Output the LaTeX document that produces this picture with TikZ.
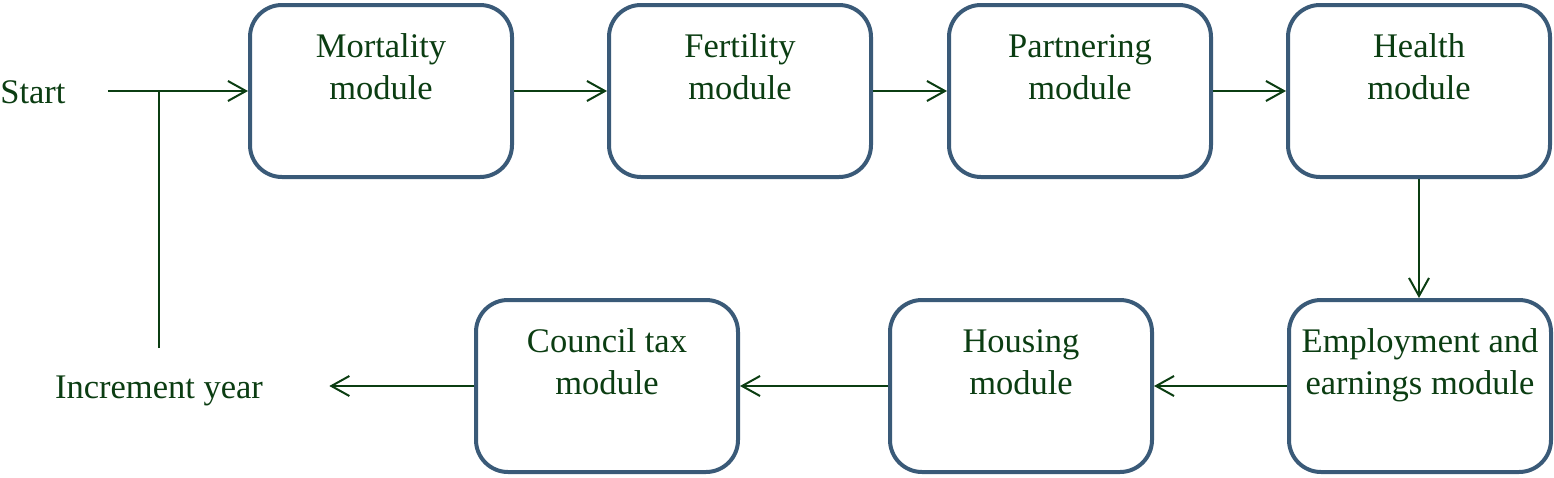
\documentclass[tikz,border=0pt]{standalone}
\usepackage{fontspec}
\setmainfont{Liberation Serif}
\usetikzlibrary{arrows.meta}
\definecolor{txtgreen}{HTML}{0B3D12}
\definecolor{boxblue}{HTML}{3A5A78}
\tikzset{
  txt/.style={text=txtgreen, font=\fontsize{17.25pt}{21pt}\selectfont, inner sep=0pt},
  modbox/.style={txt, draw=boxblue, line width=2pt, rounded corners=16pt,
    minimum width=131pt, minimum height=86pt, align=center},
  conn/.style={draw=txtgreen, line width=1pt},
  arr/.style={conn, -{Straight Barb[length=9pt,width=10pt,line width=1pt]}}
}
\newcommand{\mtwo}[2]{\strut #1\\\strut #2\\\strut}
\begin{document}
\begin{tikzpicture}[x=0.5pt,y=-0.5pt]
\useasboundingbox (0,0) rectangle (1554,477);
\node[modbox] (mort) at (381,91) {\mtwo{Mortality}{module}};
\node[modbox] (fert) at (740,91) {\mtwo{Fertility}{module}};
\node[modbox] (part) at (1080,91) {\mtwo{Partnering}{module}};
\node[modbox] (heal) at (1419,91) {\mtwo{Health}{module}};
\node[modbox] (empl) at (1420,386) {\mtwo{Employment and}{earnings module}};
\node[modbox] (hous) at (1021,386) {\mtwo{Housing}{module}};
\node[modbox] (coun) at (607,386) {\mtwo{Council tax}{module}};
\node[txt, anchor=base west] (start) at (0,103) {Start};
\node[txt, anchor=base, inner xsep=33pt, inner ysep=13.5pt] (inc) at (159,398) {Increment year};
\draw[arr] ([xshift=21pt]start.east |- mort.west) -- (mort.west);
\draw[conn] (inc.north) -- (inc.north |- mort.west);
\draw[arr] (mort.east) -- (fert.west);
\draw[arr] (fert.east) -- (part.west);
\draw[arr] (part.east) -- (heal.west);
\draw[arr] (heal.south) -- (heal.south |- empl.north);
\draw[arr] (empl.west) -- (hous.east);
\draw[arr] (hous.east -| hous.west) -- (coun.east);
\draw[arr] (coun.west) -- (coun.west -| inc.east);
\end{tikzpicture}
\end{document}
